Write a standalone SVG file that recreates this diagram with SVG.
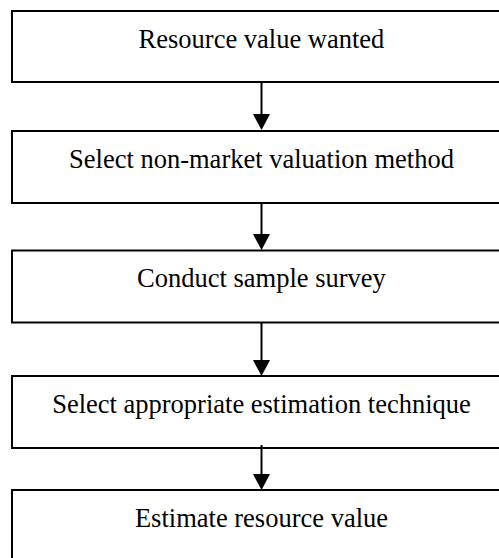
<svg xmlns="http://www.w3.org/2000/svg" width="499" height="558" viewBox="0 0 499 558">
  <style>
    .box { fill: #ffffff; stroke: #000000; stroke-width: 2; }
    .label { font-family: "Liberation Serif", "Times New Roman", serif; font-size: 26.5px; fill: #000000; text-anchor: middle; }
    .edge { stroke: #000000; stroke-width: 2; fill: none; }
    .head { fill: #000000; }
  </style>
  <rect width="499" height="558" fill="#ffffff"/>

  <g id="node-resource-value-wanted">
    <rect class="box" x="12" y="11" width="500" height="71"/>
    <text class="label" x="261.5" y="47.5">Resource value wanted</text>
  </g>
  <g id="node-select-method">
    <rect class="box" x="12" y="131" width="500" height="72"/>
    <text class="label" x="261.5" y="167.5">Select non-market valuation method</text>
  </g>
  <g id="node-conduct-survey">
    <rect class="box" x="12" y="250.5" width="500" height="72"/>
    <text class="label" x="261.5" y="287">Conduct sample survey</text>
  </g>
  <g id="node-select-technique">
    <rect class="box" x="12" y="376" width="500" height="72"/>
    <text class="label" x="261.5" y="412.5">Select appropriate estimation technique</text>
  </g>
  <g id="node-estimate-value">
    <rect class="box" x="12" y="490" width="500" height="72"/>
    <text class="label" x="261.5" y="526.5">Estimate resource value</text>
  </g>

  <g id="connectors">
    <line class="edge" x1="261.5" y1="82" x2="261.5" y2="115"/>
    <polygon class="head" points="253,114 270,114 261.5,130"/>
    <line class="edge" x1="261.5" y1="203" x2="261.5" y2="235"/>
    <polygon class="head" points="253,234 270,234 261.5,250"/>
    <line class="edge" x1="261.5" y1="322.5" x2="261.5" y2="361"/>
    <polygon class="head" points="253,360 270,360 261.5,376"/>
    <line class="edge" x1="261.5" y1="445" x2="261.5" y2="475"/>
    <polygon class="head" points="253,474 270,474 261.5,490"/>
  </g>
</svg>
